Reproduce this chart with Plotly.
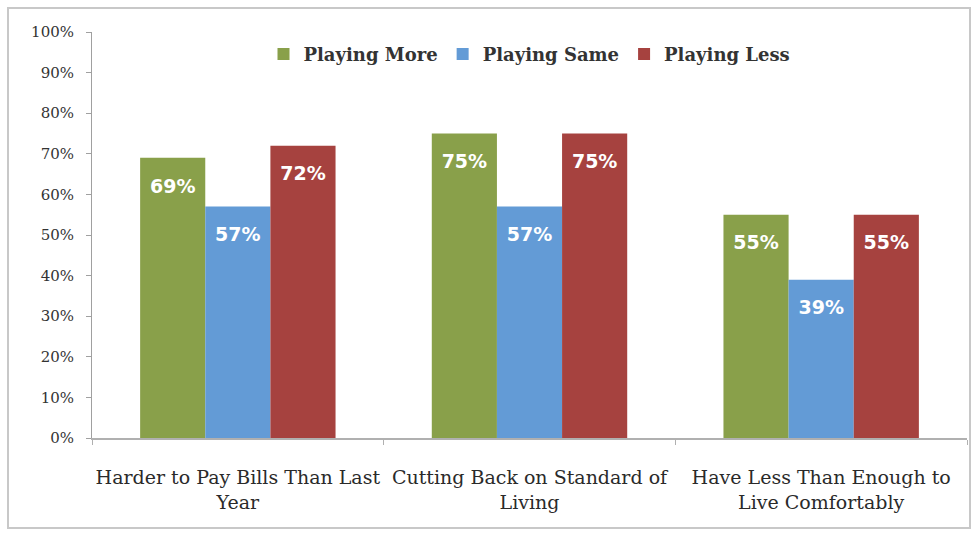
import plotly.graph_objects as go

categories = ["Harder to Pay Bills Than Last<br>Year",
              "Cutting Back on Standard of<br>Living",
              "Have Less Than Enough to<br>Live Comfortably"]
series_names = ["Playing More", "Playing Same", "Playing Less"]
playing_more = [69, 75, 55]
playing_same = [57, 57, 39]
playing_less = [72, 75, 55]
y_ticks = list(range(0, 101, 10))
y_tick_labels = [f"{v}%" for v in y_ticks]

colors = ["#89A04A", "#639BD6", "#A6423F"]
serif = "DejaVu Serif, serif"

fig = go.Figure()
for name, vals, col in zip(series_names, [playing_more, playing_same, playing_less], colors):
    fig.add_trace(go.Bar(
        x=categories, y=vals, name=name,
        marker=dict(color=col, line=dict(width=0)),
        text=[f"<span style='font-size:8px'> </span><br>{v}%" for v in vals],
        textposition="inside", insidetextanchor="end",
        textfont=dict(color="white", size=19, family="DejaVu Sans, sans-serif", weight="bold"),
        textangle=0,
    ))

fig.update_layout(
    width=977, height=534,
    margin=dict(l=92, r=10, t=32, b=96, autoexpand=False),
    paper_bgcolor="white", plot_bgcolor="white",
    barmode="group", bargap=0.33, bargroupgap=0,
    showlegend=True,
    legend=dict(orientation="h", x=0.5, xanchor="center", y=0.945, yanchor="middle",
                font=dict(family=serif, size=18, color="#333333", weight="bold"),
                itemwidth=30, traceorder="normal", bgcolor="rgba(0,0,0,0)"),
    font=dict(family=serif, color="#333333"),
)
fig.update_yaxes(range=[0, 100], tickvals=y_ticks, ticktext=y_tick_labels,
                 showgrid=False, showline=True, linecolor="#a0a0a0", linewidth=1,
                 ticks="outside", ticklen=5, tickcolor="#a0a0a0", ticklabelstandoff=9,
                 tickfont=dict(family=serif, size=15, color="#333333"), zeroline=False,
                 automargin=False)
fig.update_xaxes(showgrid=False, showline=True, linecolor="#b0b0b0", linewidth=2,
                 ticks="outside", ticklen=5, tickcolor="#b0b0b0", tickson="boundaries",
                 tickfont=dict(family=serif, size=19, color="#2a2a2a"),
                 tickangle=0, automargin=False, ticklabelstandoff=21)

fig.add_shape(type="rect", xref="paper", yref="paper",
              x0=(8-92)/875, x1=(970-92)/875, y0=(438-528)/406, y1=(438-8)/406,
              line=dict(color="#c8c8c8", width=2), fillcolor="rgba(0,0,0,0)", layer="below")

fig.write_html("out.html")
